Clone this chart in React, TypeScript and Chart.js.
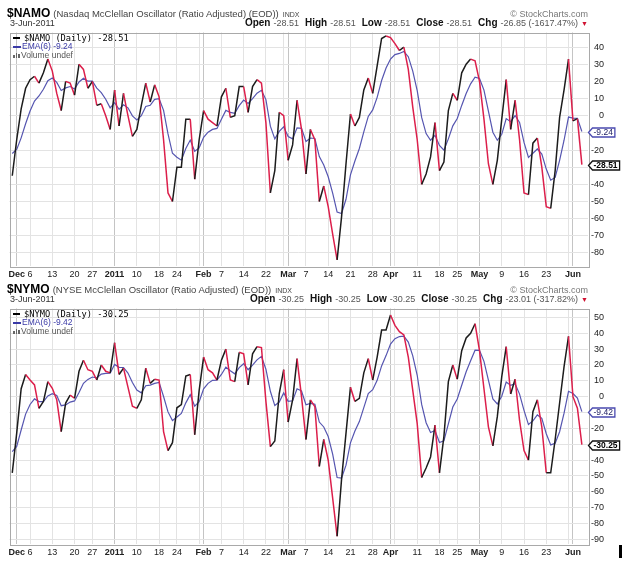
import React, { useEffect, useRef } from 'react';
import { Chart, registerables } from 'chart.js';

Chart.register(...registerables);

// Trading days 30-Nov-2010 (index 0) .. 3-Jun-2011 (index 128)
const namo = [
  -35, -14, 4, 16, 21, 23, 19, 25, 33, 26,
  13, 3, 20, 19, 12, 30, 27, 16, 20, 6,
  7, 0, -8, 15, -6, 13, 0, -12, -8, 6,
  19, 8, 18, 11, -14, -45, -50, -30, -30, -2,
  -2, -37, -14, 3, -2, -4, -6, 11, 16, -1,
  0, 17, 17, 2, 17, 21, 19, -4, -45, -32,
  2, 0, -26, -17, 9, -8, -34, -8, -14, -50,
  -41, -53, -69, -84, -59, -28, 1, -6, -1, 15,
  22, 13, 29, 45, 46.5, 45.5, 42, 38, 40, 27,
  5, -14, -40, -34, -24, -4, -32, -27, 3, 13,
  9, 25, 30, 33, 32, 20, -2, -28, -40, -26,
  -2, 21, -8, 9, -14, -45, -46, -16, -13, -30,
  -53, -54, -32, -1, 15, 33, -3, -1.66, -28.51,
];

const namoEma = [
  -22, -19.7, -12.9, -4.7, 2.7, 8.5, 11.5, 15.4, 20.4, 22.0,
  19.4, 14.7, 16.2, 17.0, 15.6, 19.7, 21.8, 20.1, 20.1, 16.1,
  13.5, 9.6, 4.6, 7.6, 3.7, 6.4, 4.6, -0.1, -2.4, 0.0,
  5.4, 6.1, 9.5, 9.9, 3.1, -10.6, -21.9, -24.2, -25.9, -19.1,
  -14.2, -20.7, -18.8, -12.6, -9.6, -8.0, -7.4, -2.1, 3.1, 1.9,
  1.4, 5.9, 9.1, 7.1, 9.9, 13.1, 14.8, 9.4, -6.1, -13.5,
  -9.1, -6.5, -12.1, -13.5, -7.1, -7.4, -15.0, -13.0, -13.3, -23.8,
  -28.7, -35.6, -45.1, -56.2, -57.0, -48.7, -34.5, -26.4, -19.1, -9.4,
  -0.4, 3.4, 10.7, 20.5, 27.8, 33.0, 35.6, 36.3, 37.4, 34.4,
  26.0, 14.6, -1.0, -10.4, -14.3, -11.4, -17.3, -20.1, -13.5, -5.9,
  -1.6, 6.0, 12.9, 18.6, 22.4, 21.7, 14.9, 2.6, -9.6, -14.3,
  -10.8, -1.7, -3.5, 0.1, -3.9, -15.6, -24.3, -21.9, -19.4, -22.4,
  -31.1, -37.6, -36.0, -26.0, -14.3, -0.8, -1.4, -1.5, -9.24,
];

const nymo = [
  -48, -23, 5, 14, 10.5, 7.4, -7.4, -3, 9.5, 5.3,
  -2, -22, -4, 1, -1, 16, 23, 17, 16, 10.5,
  20, 16, 15, 34, 14, 18, 6, -6, -7.4, -2,
  18, 8.4, 11, 10.5, -22, -34, -29, -7, -5, 13,
  14, -24, 4, 25, 17, 15, 10.5, 23, 30, 10.5,
  9.5, 28, 27, 7.4, 27, 31.5, 31, -3, -31.5, -28,
  2, 17, -16, -2, 24, 0, -27, -2, -6.3, -44,
  -27, -40, -64, -88, -52, -23, 6, -3, -1, 15,
  24, 10.5, 25, 42, 42, 51.5, 45, 41, 39, 25,
  4, -17, -51, -45, -38, -18, -48, -25, 9.5, 20,
  11, 29, 37, 40, 46, 29, 5, -19, -31, -12.6,
  12.6, 31.5, 1.7, 11, -15, -34, -40, -9.5, -2, -19,
  -48, -48, -27, -4, 19, 38, 0, -7.24, -30.25,
];

const nymoEma = [
  -34.7, -31.4, -21.0, -11.0, -4.9, -1.4, -3.1, -3.1, 0.5, 1.9,
  0.8, -5.7, -5.2, -3.4, -2.7, 2.6, 8.4, 10.9, 12.4, 11.9,
  14.2, 14.7, 14.8, 20.3, 18.5, 18.4, 14.9, 8.9, 4.2, 2.4,
  6.9, 7.3, 8.4, 9.0, 0.1, -9.6, -15.1, -12.8, -10.6, -3.9,
  1.2, -6.0, -3.1, 4.9, 8.4, 10.3, 10.4, 14.0, 18.6, 16.3,
  14.4, 18.3, 20.8, 17.0, 19.9, 23.2, 25.4, 17.3, 3.4, -5.6,
  -3.4, 2.4, -2.9, -2.6, 5.0, 3.6, -5.1, -4.2, -4.8, -16.0,
  -19.1, -25.1, -36.2, -51.0, -51.3, -43.2, -29.1, -21.6, -15.7, -6.9,
  1.9, 4.4, 10.3, 19.4, 25.9, 33.2, 36.6, 37.9, 38.2, 34.4,
  25.7, 13.5, -4.9, -16.4, -22.6, -21.3, -28.9, -27.8, -17.1, -6.5,
  -1.5, 7.2, 15.7, 22.6, 29.3, 29.2, 22.3, 10.5, -1.4, -4.6,
  0.3, 9.2, 7.1, 8.2, 1.6, -8.6, -17.6, -15.3, -11.5, -13.6,
  -23.4, -30.4, -29.4, -22.1, -10.4, 3.4, 2.0, -0.9, -9.42,
];

const tickIdx = [1, 4, 9, 14, 18, 23, 28, 33, 37, 42, 43, 47, 52, 57, 61, 62, 66, 71, 76, 81, 85, 86, 91, 96, 100, 105, 110, 115, 120, 125, 126];
const tickLabels = ['Dec', '6', '13', '20', '27', '2011', '10', '18', '24', '', 'Feb', '7', '14', '22', '', 'Mar', '7', '14', '21', '28', 'Apr', '', '11', '18', '25', 'May', '9', '16', '23', '', 'Jun'];
const monthIdx = [1, 23, 43, 62, 85, 105, 126];
const namoYTicks = [40, 30, 20, 10, 0, -10, -20, -30, -40, -50, -60, -70, -80];
const nymoYTicks = [50, 40, 30, 20, 10, 0, -10, -20, -30, -40, -50, -60, -70, -80, -90];

const RED = '#dc1f4b';
const BLACK = '#1c1c1c';
const BLUE = '#5555b0';
const FONT = "'Liberation Sans', Arial, sans-serif";
const X_MIN = -0.62;
const X_MAX = 129.38;

type Tag = { value: number; text: string; color: string; textColor: string; bold: boolean };

function makeFramePlugin(tags: Tag[]) {
  return {
    id: 'frameTags',
    afterDraw(chart: any) {
      const { ctx, chartArea: a } = chart;
      ctx.save();
      ctx.strokeStyle = '#a9a9a9';
      ctx.lineWidth = 1;
      ctx.strokeRect(Math.round(a.left) + 0.5, Math.round(a.top) + 0.5, Math.round(a.right - a.left), Math.round(a.bottom - a.top));
      const ys = chart.scales.y;
      for (const t of tags) {
        const py = Math.round(ys.getPixelForValue(t.value)) + 0.5;
        ctx.font = `${t.bold ? 'bold ' : ''}8.5px ${FONT}`;
        const w = ctx.measureText(t.text).width + 3;
        const x0 = Math.round(a.right) + 0.5;
        ctx.beginPath();
        ctx.moveTo(x0, py);
        ctx.lineTo(x0 + 4, py - 4.5);
        ctx.lineTo(x0 + 4 + w, py - 4.5);
        ctx.lineTo(x0 + 4 + w, py + 4.5);
        ctx.lineTo(x0 + 4, py + 4.5);
        ctx.closePath();
        ctx.fillStyle = '#fff';
        ctx.fill();
        ctx.strokeStyle = t.color;
        ctx.lineWidth = 1.3;
        ctx.stroke();
        ctx.fillStyle = t.textColor;
        ctx.textBaseline = 'middle';
        ctx.textAlign = 'left';
        ctx.fillText(t.text, x0 + 5, py + 0.5);
      }
      ctx.restore();
    },
  };
}

function makeConfig(values: number[], ema: number[], yMin: number, yMax: number, yTicks: number[], padTop: number, xAxisH: number, tags: Tag[]): any {
  return {
    type: 'line',
    data: {
      datasets: [
        {
          data: values.map((v, i) => ({ x: i, y: v })),
          borderColor: BLACK,
          borderWidth: 1.5,
          pointRadius: 0,
          tension: 0,
          segment: { borderColor: (c: any) => (c.p1.parsed.y < c.p0.parsed.y ? RED : BLACK) },
        },
        {
          data: ema.map((v, i) => ({ x: i, y: v })),
          borderColor: BLUE,
          borderWidth: 1.2,
          pointRadius: 0,
          tension: 0,
        },
      ],
    },
    options: {
      responsive: false,
      animation: false,
      events: [],
      layout: { padding: { left: 9.5, top: padTop, right: 21, bottom: 0 } },
      plugins: { legend: { display: false }, tooltip: { enabled: false } },
      scales: {
        x: {
          type: 'linear',
          min: X_MIN,
          max: X_MAX,
          afterBuildTicks: (s: any) => { s.ticks = tickIdx.map((v) => ({ value: v })); },
          afterFit: (s: any) => { s.height = xAxisH; },
          grid: {
            color: (c: any) => (c.tick && monthIdx.includes(c.tick.value) ? '#c4c4c4' : '#e3e3e3'),
            drawTicks: false,
            lineWidth: 1,
          },
          border: { display: false },
          ticks: {
            autoSkip: false,
            maxRotation: 0,
            minRotation: 0,
            padding: 3,
            color: '#222',
            font: (c: any) => ({ family: FONT, size: 9, weight: c.tick && monthIdx.includes(c.tick.value) ? 'bold' : 'normal' }),
            callback: (v: number) => {
              const k = tickIdx.indexOf(v);
              return k >= 0 ? tickLabels[k] : '';
            },
          },
        },
        y: {
          position: 'right',
          min: yMin,
          max: yMax,
          afterBuildTicks: (s: any) => { s.ticks = yTicks.map((v) => ({ value: v })); },
          afterFit: (s: any) => { s.width = 16; },
          grid: { color: '#e3e3e3', drawTicks: false },
          border: { display: false },
          ticks: { crossAlign: 'far', padding: 1, color: '#222', font: { family: FONT, size: 9 }, callback: (v: number) => String(v) },
        },
      },
    },
    plugins: [makeFramePlugin(tags)],
  };
}

function PanelText(p: { pt: number; sym: string; desc: string; close: string; chg: string; ema: string }) {
  const lab: React.CSSProperties = { fontWeight: 'bold', fontSize: 10, color: '#111', marginLeft: 6 };
  const val: React.CSSProperties = { fontSize: 9, color: '#555', marginLeft: 3 };
  const abs: React.CSSProperties = { position: 'absolute', whiteSpace: 'nowrap' };
  return (
    <>
      <div style={{ ...abs, left: 7, top: p.pt - 26.5, lineHeight: '14px', fontSize: 12 }}>
        <span style={{ fontWeight: 'bold', color: '#000' }}>{p.sym}</span>
        <span style={{ fontSize: 9.5, color: '#444', marginLeft: 3 }}>{p.desc}</span>
        <span style={{ fontSize: 7, color: '#444', marginLeft: 4 }}>INDX</span>
      </div>
      <div style={{ ...abs, right: 37, top: p.pt - 26.5, lineHeight: '14px', fontSize: 12 }}>
        <span style={{ fontSize: 9, color: '#777' }}>© StockCharts.com</span>
      </div>
      <div style={{ ...abs, left: 10, top: p.pt - 15.2, lineHeight: '12px', fontSize: 10 }}>
        <span style={{ fontSize: 9, color: '#333' }}>3-Jun-2011</span>
      </div>
      <div style={{ ...abs, right: 37, top: p.pt - 15.2, lineHeight: '12px', fontSize: 10 }}>
        <span style={{ ...lab, marginLeft: 0 }}>Open</span><span style={val}>{p.close}</span>
        <span style={lab}>High</span><span style={val}>{p.close}</span>
        <span style={lab}>Low</span><span style={val}>{p.close}</span>
        <span style={lab}>Close</span><span style={val}>{p.close}</span>
        <span style={lab}>Chg</span><span style={val}>{p.chg}</span>
        <span style={{ color: '#d01030', fontSize: 7, marginLeft: 3 }}>▼</span>
      </div>
      <div style={{ ...abs, left: 13, top: p.pt + 1, fontSize: 8.5 }}>
        <div style={{ height: 8.6, lineHeight: '8.6px' }}>
          <span style={{ display: 'inline-block', width: 7, height: 2, background: '#000', verticalAlign: 'middle', marginRight: 4 }} />
          <span style={{ fontFamily: "'DejaVu Sans Mono', monospace", fontSize: 8.7, color: '#000' }}>{p.sym} (Daily) {p.close}</span>
        </div>
        <div style={{ height: 8.6, lineHeight: '8.6px' }}>
          <span style={{ display: 'inline-block', width: 8, height: 1.5, background: '#3a3aa6', verticalAlign: 'middle', marginRight: 1 }} />
          <span style={{ color: '#3a3aa6' }}>EMA(6) {p.ema}</span>
        </div>
        <div style={{ height: 8.6, lineHeight: '8.6px' }}>
          <span style={{ display: 'inline-block', width: 1.5, height: 3, background: '#666', marginRight: 1 }} />
          <span style={{ display: 'inline-block', width: 1.5, height: 5, background: '#666', marginRight: 1 }} />
          <span style={{ display: 'inline-block', width: 1.5, height: 4, background: '#666', marginRight: 1.5 }} />
          <span style={{ color: '#555' }}>Volume undef</span>
        </div>
      </div>
    </>
  );
}

export default function App() {
  const c1 = useRef<HTMLCanvasElement>(null);
  const c2 = useRef<HTMLCanvasElement>(null);
  useEffect(() => {
    const ch1 = new Chart(
      c1.current as HTMLCanvasElement,
      makeConfig(namo, namoEma, -87.6, 48.5, namoYTicks, 32.5, 16, [
        { value: -9.24, text: '-9.24', color: '#4a4ab0', textColor: '#222266', bold: false },
        { value: -28.51, text: '-28.51', color: '#111', textColor: '#000', bold: true },
      ])
    );
    const ch2 = new Chart(
      c2.current as HTMLCanvasElement,
      makeConfig(nymo, nymoEma, -92.9, 55.6, nymoYTicks, 26.5, 21, [
        { value: -9.42, text: '-9.42', color: '#4a4ab0', textColor: '#222266', bold: false },
        { value: -30.25, text: '-30.25', color: '#111', textColor: '#000', bold: true },
      ])
    );
    return () => {
      ch1.destroy();
      ch2.destroy();
    };
  }, []);
  return (
    <div style={{ position: 'absolute', left: 0, top: 0, width: 625, height: 565, background: '#fff', overflow: 'hidden', fontFamily: FONT }}>
      <canvas ref={c1} width={625} height={282} style={{ position: 'absolute', left: 0, top: 0, width: 625, height: 282 }} />
      <canvas ref={c2} width={625} height={283} style={{ position: 'absolute', left: 0, top: 282, width: 625, height: 283 }} />
      <PanelText pt={32.5} sym="$NAMO" desc="(Nasdaq McClellan Oscillator (Ratio Adjusted) (EOD))" close="-28.51" chg="-26.85 (-1617.47%)" ema="-9.24" />
      <PanelText pt={308.5} sym="$NYMO" desc="(NYSE McClellan Oscillator (Ratio Adjusted) (EOD))" close="-30.25" chg="-23.01 (-317.82%)" ema="-9.42" />
      <div style={{ position: 'absolute', left: 619, top: 545, width: 3, height: 13, background: '#000' }} />
    </div>
  );
}
